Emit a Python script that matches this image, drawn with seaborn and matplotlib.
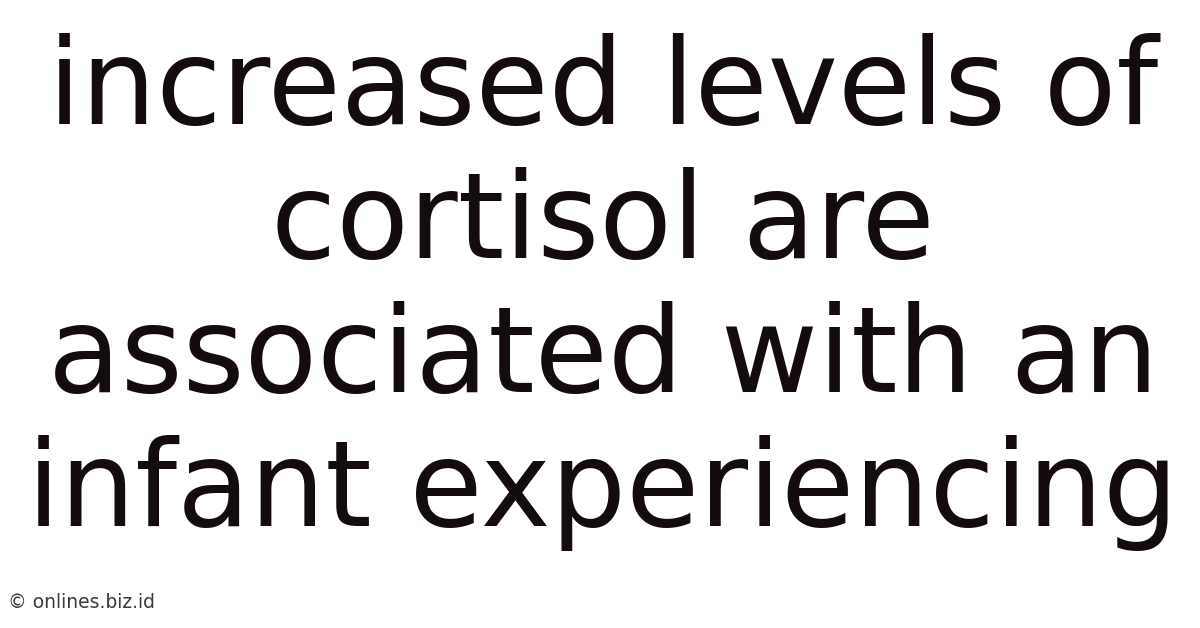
import matplotlib
matplotlib.use("Agg")
import matplotlib.pyplot as plt
import seaborn as sns

# text lines of the card, top to bottom
lines = [
    "increased levels of",
    "cortisol are",
    "associated with an",
    "infant experiencing",
]
watermark = "© onlines.biz.id"

sns.set_theme(style="white")
plt.rcParams['font.family'] = ['DejaVu Sans']

fig = plt.figure(figsize=(12, 6.28), dpi=100)
ax = fig.add_axes([0, 0, 1, 1])
ax.set_axis_off()
ax.set_xlim(0, 1200)
ax.set_ylim(628, 0)

text_color = "#140c0c"
base_y = 124
step = 134
for i, line in enumerate(lines):
    ax.text(603, base_y + i * step, line, ha="center", va="baseline",
            fontsize=85.5, color=text_color)

ax.text(8, 608, watermark, ha="left", va="baseline", fontsize=13.5, color="#3a3a3a")

fig.savefig("out.png", dpi=100, facecolor="white")
